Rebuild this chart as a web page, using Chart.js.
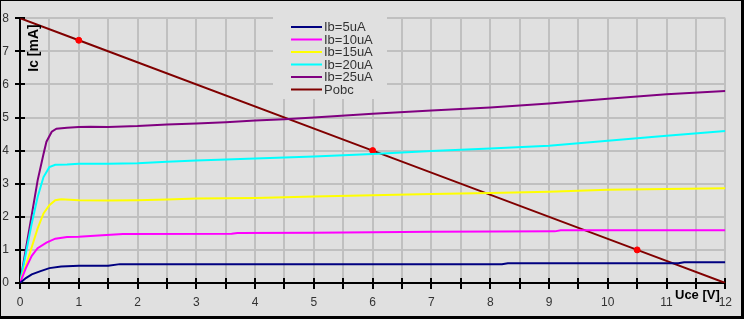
<!DOCTYPE html>
<html>
<head>
<meta charset="utf-8">
<script src="https://cdn.jsdelivr.net/npm/chart.js@4/dist/chart.umd.min.js"></script>
<style>
    html, body { margin: 0; padding: 0; background: #e0e0e0; }
    canvas { display: block; }
</style>
</head>
<body>
<canvas id="grafico" width="744" height="319"></canvas>
<script>
// -------------------------------
// Datos
// -------------------------------
const uce5  = [0, 0.1, 0.2, 0.35, 0.5, 0.7, 1, 1.5, 1.7, 8.2, 8.3, 11.2, 11.3, 12];
const ic5   = [0, 0.15, 0.26, 0.36, 0.45, 0.5, 0.52, 0.52, 0.57, 0.57, 0.6, 0.6, 0.63, 0.63];

const uce10 = [0, 0.1, 0.2, 0.3, 0.45, 0.6, 0.8, 1, 1.4, 1.75, 3.6, 3.7, 5, 6, 7, 9.1, 9.2, 12];
const ic10  = [0, 0.45, 0.82, 1.05, 1.22, 1.34, 1.39, 1.4, 1.44, 1.48, 1.49, 1.51, 1.52, 1.53, 1.55, 1.56, 1.59, 1.59];

const uce15 = [0, 0.15, 0.3, 0.4, 0.5, 0.6, 0.7, 1, 1.5, 2, 2.5, 3, 4, 5, 6, 7, 8, 9, 10, 11, 12];
const ic15  = [0, 0.8, 1.65, 2.1, 2.35, 2.5, 2.53, 2.5, 2.49, 2.5, 2.52, 2.55, 2.57, 2.61, 2.65, 2.69, 2.72, 2.76, 2.82, 2.84, 2.86];

const uce20 = [0, 0.1, 0.2, 0.3, 0.4, 0.5, 0.6, 0.8, 1, 1.5, 2, 2.5, 3, 3.5, 4, 4.5, 5, 6, 7, 8, 9, 10, 11, 12];
const ic20  = [0, 0.9, 1.8, 2.6, 3.2, 3.5, 3.57, 3.58, 3.6, 3.6, 3.62, 3.66, 3.7, 3.73, 3.76, 3.79, 3.82, 3.9, 3.99, 4.06, 4.15, 4.3, 4.45, 4.59];

const uce25 = [0, 0.2, 0.3, 0.4, 0.45, 0.54, 0.62, 0.8, 1, 1.2, 1.5, 2, 2.5, 3, 3.5, 4, 4.5, 5, 6, 7, 8, 9, 10, 11, 12];
const ic25  = [0, 2.06, 3.1, 3.9, 4.27, 4.57, 4.66, 4.69, 4.71, 4.72, 4.71, 4.74, 4.79, 4.82, 4.86, 4.91, 4.95, 5.0, 5.11, 5.21, 5.3, 5.42, 5.57, 5.7, 5.8];

const uceObc = [0, 1, 6, 10.5, 12];
const icObc  = [8, 7.333, 4, 1, 0];
const marcaObc = [0, 3, 3, 3, 0];

const etiquetas = ["Ib=5uA", "Ib=10uA", "Ib=15uA", "Ib=20uA", "Ib=25uA", "Pobc"];
const colores   = ["#000080", "#ff00ff", "#ffff00", "#00ffff", "#800080", "#800000"];

const ticksX = [0, 1, 2, 3, 4, 5, 6, 7, 8, 9, 10, 11, 12];
const ticksY = [0, 1, 2, 3, 4, 5, 6, 7, 8];

const FUENTE = "'Liberation Sans', Arial, sans-serif";

function puntos(xs, ys) {
    return xs.map((x, i) => ({ x: x, y: ys[i] }));
}

// -------------------------------
// Plugins
// -------------------------------
const fondo = {
    id: "fondo",
    beforeDraw(chart) {
        const { ctx, width, height } = chart;
        ctx.save();
        ctx.fillStyle = "#e0e0e0";
        ctx.fillRect(0, 0, width, height);
        ctx.fillStyle = "#000";
        ctx.fillRect(0, 0, width, 1);
        ctx.fillRect(0, 0, 1, height);
        ctx.fillRect(width - 3, 0, 3, height);
        ctx.fillRect(0, height - 3, width, 3);
        ctx.restore();
    }
};

const marcas = {
    id: "marcas",
    beforeDatasetsDraw(chart) {
        const { ctx, chartArea, scales } = chart;
        ctx.save();

        // leyenda
        ctx.fillStyle = "#e0e0e0";
        ctx.fillRect(273, 16, 114, 83);
        ctx.font = "13px " + FUENTE;
        ctx.textBaseline = "middle";
        chart.data.datasets.forEach((ds, i) => {
            const y = 27 + i * 12.5;
            ctx.strokeStyle = ds.borderColor;
            ctx.lineWidth = 2;
            ctx.beginPath();
            ctx.moveTo(291, y);
            ctx.lineTo(322, y);
            ctx.stroke();
            ctx.fillStyle = "#333";
            ctx.fillText(ds.label, 324, y + 0.5);
        });

        // marcas de los ejes
        ctx.strokeStyle = "#000";
        ctx.lineWidth = 2;
        scales.x.ticks.forEach(t => {
            const x = Math.round(scales.x.getPixelForValue(t.value));
            ctx.beginPath();
            ctx.moveTo(x, chartArea.bottom - 5);
            ctx.lineTo(x, chartArea.bottom + 6);
            ctx.stroke();
        });
        scales.y.ticks.forEach(t => {
            const y = Math.round(scales.y.getPixelForValue(t.value));
            ctx.beginPath();
            ctx.moveTo(chartArea.left - 5, y);
            ctx.lineTo(chartArea.left + 5, y);
            ctx.stroke();
        });
        ctx.restore();
    }
};

const titulos = {
    id: "titulos",
    afterDraw(chart) {
        const { ctx } = chart;
        ctx.save();
        ctx.fillStyle = "#000";
        ctx.font = "bold 13px " + FUENTE;
        ctx.textBaseline = "alphabetic";
        ctx.textAlign = "left";
        ctx.fillText("Uce [V]", 675, 299);

        ctx.font = "bold 14px " + FUENTE;
        ctx.translate(38, 48);
        ctx.rotate(-Math.PI / 2);
        ctx.textAlign = "center";
        ctx.fillText("Ic [mA]", 0, 0);
        ctx.restore();
    }
};

// -------------------------------
// Grafico
// -------------------------------
const series = [
    [uce5, ic5], [uce10, ic10], [uce15, ic15], [uce20, ic20], [uce25, ic25], [uceObc, icObc]
];

const datasets = series.map((s, i) => ({
    label: etiquetas[i],
    data: puntos(s[0], s[1]),
    borderColor: colores[i],
    backgroundColor: colores[i],
    borderWidth: 2,
    pointRadius: i === 5 ? marcaObc : 0,
    pointBackgroundColor: "#ff0000",
    pointBorderColor: "#ff0000",
    pointBorderWidth: 1,
    tension: 0,
    fill: false
}));

new Chart(document.getElementById("grafico").getContext("2d"), {
    type: "line",
    data: { datasets: datasets },
    options: {
        responsive: false,
        animation: false,
        layout: { padding: { left: 0, top: 12, right: 16, bottom: 0 } },
        plugins: {
            legend: { display: false },
            tooltip: { enabled: false }
        },
        scales: {
            x: {
                type: "linear",
                min: 0,
                max: 12,
                afterFit(axis) { axis.height = 36; },
                ticks: {
                    stepSize: 0.5,
                    autoSkip: false,
                    maxRotation: 0,
                    padding: 12,
                    color: "#333",
                    font: { family: FUENTE, size: 12 },
                    callback: v => ticksX.includes(v) ? String(v) : ""
                },
                grid: { color: "#c0c0c0", lineWidth: 2, drawTicks: false },
                border: { color: "#000", width: 2 }
            },
            y: {
                type: "linear",
                min: 0,
                max: 8,
                afterFit(axis) { axis.width = 20; },
                ticks: {
                    stepSize: 1,
                    padding: 11,
                    color: "#333",
                    font: { family: FUENTE, size: 12 },
                    callback: v => ticksY.includes(v) ? String(v) : ""
                },
                grid: { color: "#c0c0c0", lineWidth: 2, drawTicks: false },
                border: { color: "#000", width: 2 }
            }
        }
    },
    plugins: [fondo, marcas, titulos]
});
</script>
</body>
</html>
